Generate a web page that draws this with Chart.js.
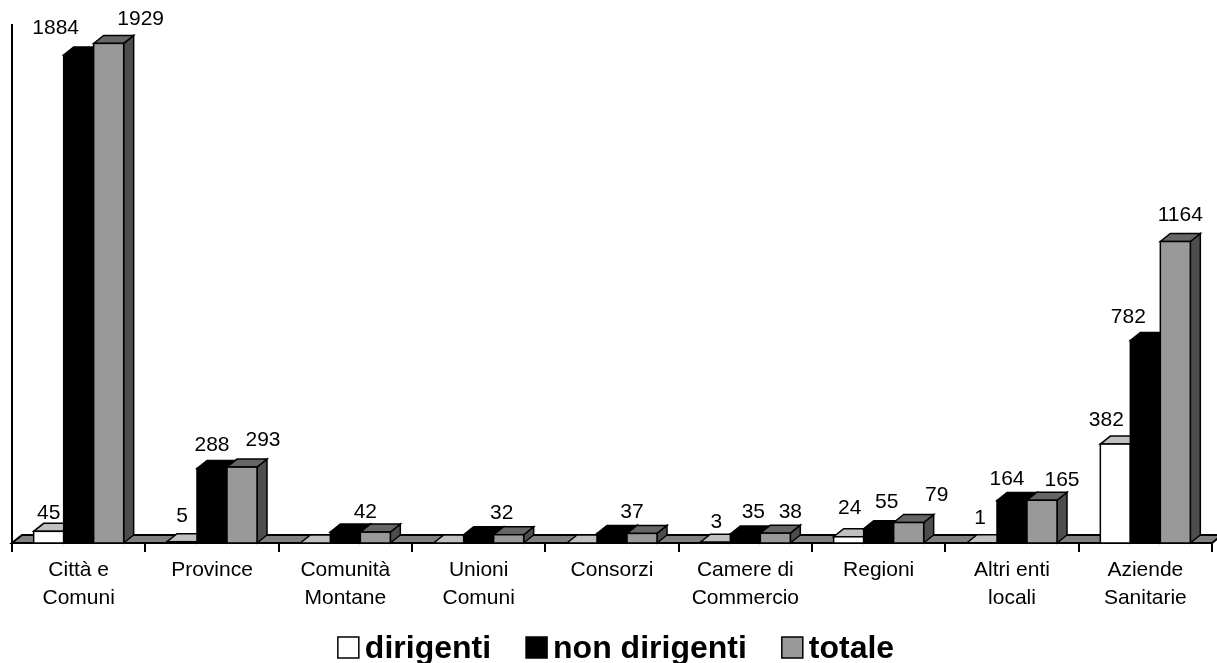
<!DOCTYPE html>
<html>
<head>
<meta charset="utf-8">
<script src="https://cdn.jsdelivr.net/npm/chart.js@4.4.1/dist/chart.umd.min.js"></script>
<style>
  html, body { margin: 0; padding: 0; background: #ffffff; }
  canvas { display: block; }
</style>
</head>
<body>
<canvas id="chart" width="1217" height="663"></canvas>
<script>
// Categories (multi-line labels as arrays)
const categories = [
  ['Città e', 'Comuni'], 'Province', ['Comunità', 'Montane'], ['Unioni', 'Comuni'],
  'Consorzi', ['Camere di', 'Commercio'], 'Regioni', ['Altri enti', 'locali'], ['Aziende', 'Sanitarie']
];
const seriesNames = ['dirigenti', 'non dirigenti', 'totale'];
const dirigenti    = [45, 5, 0, 0, 0, 3, 24, 1, 382];
const nonDirigenti = [1884, 288, 42, 32, 37, 35, 55, 164, 782];
const totale       = [1929, 293, 42, 32, 37, 38, 79, 165, 1164];
const yMin = 0;
const yMax = 2000;

// Small nudges for the value labels (pixels), per series and category
const labelDx = [
  [0, 0, 0, 0, 0, 1, 1, -2, -9],
  [-23, 0, 0, 0, 0, 8, 8, -5, -17],
  [32, 21, -10, -7, -10, 15, 28, 20, 5]
];
const labelDy = [
  [5, -3, 0, 0, 0, 3, -6, -2, -1],
  [-4, 0, 0, 0, 0, 1, -4, 2, 0],
  [-1, -4, 3, 1, 2, 2, -4, 3, -3]
];

const FONT = "'Liberation Sans', Arial, Helvetica, sans-serif";
const frontColors = ['#ffffff', '#000000', '#999999'];
const topColors   = ['#c0c0c0', '#000000', '#666666'];
const sideColors  = ['#c0c0c0', '#000000', '#4d4d4d'];
const DEPTH_X = 10, DEPTH_Y = 8;

function poly(ctx, pts, fill) {
  ctx.beginPath();
  ctx.moveTo(pts[0][0], pts[0][1]);
  for (let k = 1; k < pts.length; k++) ctx.lineTo(pts[k][0], pts[k][1]);
  ctx.closePath();
  ctx.fillStyle = fill;
  ctx.fill();
  ctx.stroke();
}

// Draws the floor, the 3D faces of each column and the value labels
const columns3d = {
  id: 'columns3d',
  beforeDatasetsDraw(chart) {
    const { ctx, chartArea: a } = chart;
    ctx.save();
    ctx.lineWidth = 2;
    ctx.strokeStyle = '#000';
    poly(ctx, [[a.left, a.bottom], [a.right, a.bottom],
               [a.right + DEPTH_X, a.bottom - DEPTH_Y], [a.left + DEPTH_X, a.bottom - DEPTH_Y]], '#808080');
    ctx.restore();
  },
  afterDatasetsDraw(chart) {
    const ctx = chart.ctx;
    const sets = chart.data.datasets;
    const metas = sets.map((d, i) => chart.getDatasetMeta(i));
    ctx.save();
    ctx.lineWidth = 1.5;
    ctx.strokeStyle = '#000';
    ctx.lineJoin = 'miter';
    for (let j = 0; j < chart.data.labels.length; j++) {
      metas.forEach((meta, i) => {
        const p = meta.data[j].getProps(['x', 'y', 'base', 'width'], true);
        const l = p.x - p.width / 2, r = p.x + p.width / 2, t = p.y, b = p.base;
        if (b - t > 0.5) {
          poly(ctx, [[r, b], [r + DEPTH_X, b - DEPTH_Y], [r + DEPTH_X, t - DEPTH_Y], [r, t]], sideColors[i]);
        }
        poly(ctx, [[l, t], [r, t], [r + DEPTH_X, t - DEPTH_Y], [l + DEPTH_X, t - DEPTH_Y]], topColors[i]);
        if (b - t > 0.5) {
          ctx.fillStyle = frontColors[i];
          ctx.fillRect(l, t, r - l, b - t);
          ctx.strokeRect(l, t, r - l, b - t);
        }
      });
    }
    // value labels
    ctx.fillStyle = '#000';
    ctx.font = '21px ' + FONT;
    ctx.textAlign = 'center';
    ctx.textBaseline = 'middle';
    metas.forEach((meta, i) => {
      sets[i].data.forEach((v, j) => {
        if (!v) return;
        if (i === 1 && v === sets[2].data[j]) return; // same figure as the total
        const p = meta.data[j].getProps(['x', 'y'], true);
        ctx.fillText(String(v), p.x + labelDx[i][j], p.y - DEPTH_Y - 15 + labelDy[i][j]);
      });
    });
    ctx.restore();
  }
};

// Legend row below the axis
const legendRow = {
  id: 'legendRow',
  afterDraw(chart) {
    const ctx = chart.ctx;
    const sets = chart.data.datasets;
    ctx.save();
    ctx.font = 'bold 32px ' + FONT;
    const box = 21, gapIn = 6, gapOut = 35;
    const widths = sets.map(d => ctx.measureText(d.label).width);
    const total = widths.reduce((s, w) => s + box + gapIn + w, 0) + gapOut * (sets.length - 1);
    let x = 616 - total / 2;
    const baseline = 658;
    sets.forEach((d, i) => {
      ctx.fillStyle = frontColors[i];
      ctx.fillRect(x, baseline - box, box, box);
      ctx.lineWidth = 1.5;
      ctx.strokeStyle = '#000';
      ctx.strokeRect(x, baseline - box, box, box);
      x += box + gapIn;
      ctx.fillStyle = '#000';
      ctx.textAlign = 'left';
      ctx.textBaseline = 'alphabetic';
      ctx.fillText(d.label, x, baseline);
      x += widths[i] + gapOut;
    });
    ctx.restore();
  }
};

new Chart(document.getElementById('chart'), {
  type: 'bar',
  data: {
    labels: categories,
    datasets: [
      { label: seriesNames[0], data: dirigenti,    backgroundColor: frontColors[0], borderColor: '#000', borderWidth: 1.5 },
      { label: seriesNames[1], data: nonDirigenti, backgroundColor: frontColors[1], borderColor: '#000', borderWidth: 1.5 },
      { label: seriesNames[2], data: totale,       backgroundColor: frontColors[2], borderColor: '#000', borderWidth: 1.5 }
    ]
  },
  options: {
    responsive: false,
    animation: false,
    devicePixelRatio: 1,
    layout: { padding: { left: 12, right: 5, top: 25, bottom: 0 } },
    datasets: { bar: { categoryPercentage: 0.675, barPercentage: 1 } },
    plugins: { legend: { display: false }, tooltip: { enabled: false } },
    scales: {
      x: {
        grid: { offset: true, drawOnChartArea: false, drawTicks: true, tickLength: 9, color: '#000', lineWidth: 2 },
        border: { display: true, color: '#000', width: 2 },
        ticks: { color: '#000', font: { family: FONT, size: 21, lineHeight: 1.3 }, maxRotation: 0, minRotation: 0, autoSkip: false, padding: 5 },
        afterFit(scale) { scale.height = 120; }
      },
      y: {
        min: yMin, max: yMax,
        grid: { display: false, drawTicks: false },
        ticks: { display: false },
        border: { display: true, color: '#000', width: 2 },
        afterFit(scale) { scale.width = 0; }
      }
    }
  },
  plugins: [columns3d, legendRow]
});
</script>
</body>
</html>
